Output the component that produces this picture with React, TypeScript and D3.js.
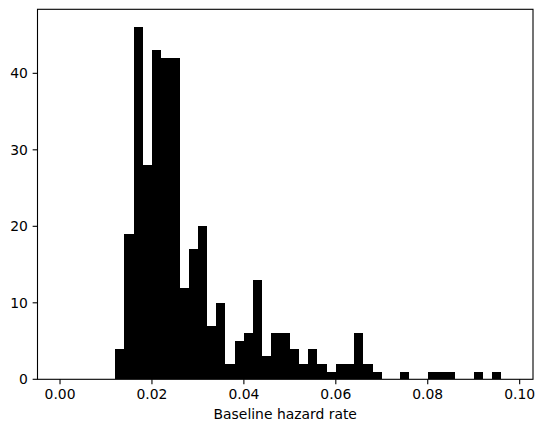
import { useMemo } from "react";
import { scaleLinear } from "d3";

const totalWidth = 545;
const totalHeight = 432;
const margin = { left: 37.5, right: 12, top: 9.3, bottom: 52.7 };
const innerWidth = totalWidth - margin.left - margin.right;
const innerHeight = totalHeight - margin.top - margin.bottom;

// histogram bins: edges 0, 0.002, ... 0.098
const binWidth = 0.002;
const binStarts = Array.from({ length: 49 }, (_, i) => +(i * binWidth).toFixed(3));
const counts = [
  0, 0, 0, 0, 0, 0, 4, 19, 46, 28, 43, 42, 42, 12, 17, 20, 7, 10, 2, 5, 6, 13, 3, 6,
  6, 4, 2, 4, 2, 1, 2, 2, 6, 2, 1, 0, 0, 1, 0, 0, 1, 1, 1, 0, 0, 1, 0, 1, 0,
];
const xTicks = [0, 0.02, 0.04, 0.06, 0.08, 0.1];
const xTickLabels = ["0.00", "0.02", "0.04", "0.06", "0.08", "0.10"];
const yTicks = [0, 10, 20, 30, 40];
const xLabel = "Baseline hazard rate";

const font = "'DejaVu Sans', sans-serif";
const tickLen = 4.86;

export default function App() {
  document.body.style.margin = "0";

  const { xScale, yScale } = useMemo(() => {
    const xScale = scaleLinear().domain([-0.0049, 0.1029]).range([0, innerWidth]);
    const yScale = scaleLinear().domain([0, 48.37]).range([innerHeight, 0]);
    return { xScale, yScale };
  }, []);

  return (
    <svg width={totalWidth} height={totalHeight} style={{ display: "block" }}>
      <rect width={totalWidth} height={totalHeight} fill="white" />
      <g transform={`translate(${margin.left}, ${margin.top})`}>
        {binStarts.map((s, i) =>
          counts[i] > 0 ? (
            <rect
              key={s}
              x={xScale(s)}
              y={yScale(counts[i])}
              width={xScale(s + binWidth) - xScale(s)}
              height={yScale(0) - yScale(counts[i])}
              fill="black"
              shapeRendering="crispEdges"
            />
          ) : null,
        )}
        <rect
          x={0}
          y={0}
          width={innerWidth}
          height={innerHeight}
          fill="none"
          stroke="black"
          strokeWidth={1.1}
        />
        {xTicks.map((t, i) => (
          <g key={t} transform={`translate(${xScale(t)}, ${innerHeight})`}>
            <line y1={0} y2={tickLen} stroke="black" strokeWidth={1.1} />
            <text
              y={20}
              textAnchor="middle"
              fontFamily={font}
              fontSize={13.9}
              fill="black"
            >
              {xTickLabels[i]}
            </text>
          </g>
        ))}
        {yTicks.map((t) => (
          <g key={t} transform={`translate(0, ${yScale(t)})`}>
            <line x1={-tickLen} x2={0} stroke="black" strokeWidth={1.1} />
            <text
              x={-9.7}
              dy="0.36em"
              textAnchor="end"
              fontFamily={font}
              fontSize={13.9}
              fill="black"
            >
              {t}
            </text>
          </g>
        ))}
        <text
          x={innerWidth / 2}
          y={innerHeight + 40}
          textAnchor="middle"
          fontFamily={font}
          fontSize={13.9}
          fill="black"
        >
          {xLabel}
        </text>
      </g>
    </svg>
  );
}
